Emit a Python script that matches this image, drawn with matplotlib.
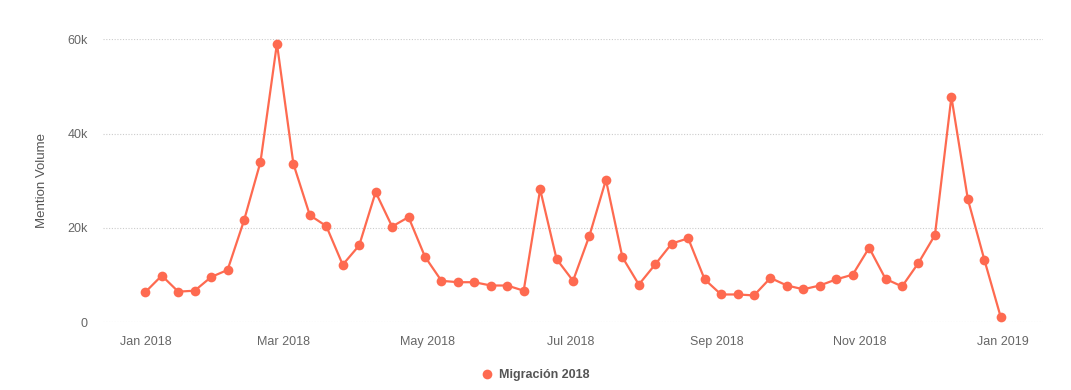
import matplotlib
matplotlib.use("Agg")
import matplotlib.pyplot as plt
import matplotlib.dates as mdates
import pandas as pd

plt.rcParams['font.family'] = ['Liberation Sans', 'DejaVu Sans']

SERIES_NAME = "Migración 2018"
START_WEEK = "2018-01-01"
# weekly mention volume (thousands)
volume_k = [6.4, 9.9, 6.5, 6.7, 9.6, 11.1, 21.6, 34.0, 59.1, 33.6,
            22.7, 20.4, 12.2, 16.3, 27.6, 20.3, 22.3, 13.9, 8.8, 8.5,
            8.5, 7.8, 7.8, 6.7, 28.2, 13.4, 8.8, 18.4, 30.2, 13.8,
            8.0, 12.3, 16.7, 17.8, 9.1, 5.9, 5.9, 5.7, 9.4, 7.8,
            7.0, 7.8, 9.1, 10.1, 15.8, 9.2, 7.6, 12.6, 18.5, 47.8,
            26.1, 13.3, 1.1]
y_ticks = [0, 20000, 40000, 60000]
y_tick_labels = ["0", "20k", "40k", "60k"]

LINE_COLOR = "#fe6a50"
TEXT_COLOR = "#666666"


def main():
    weeks = pd.date_range(START_WEEK, periods=len(volume_k), freq="7D")
    values = [v * 1000 for v in volume_k]

    fig = plt.figure(figsize=(10.71, 3.9), dpi=100)
    ax = fig.add_axes([0.0962, 0.1736, 0.8777, 0.7256])

    ax.plot(weeks, values, color=LINE_COLOR, linewidth=1.6, marker="o",
            markersize=7, markeredgewidth=0, label=SERIES_NAME, clip_on=False, zorder=3)

    ax.set_ylim(0, 60000)
    ax.set_xlim(pd.Timestamp("2017-12-14"), pd.Timestamp("2019-01-18"))
    ax.set_yticks(y_ticks)
    ax.set_yticklabels(y_tick_labels)

    ax.xaxis.set_major_locator(mdates.MonthLocator(bymonth=[1, 3, 5, 7, 9, 11]))
    ax.xaxis.set_major_formatter(mdates.DateFormatter("%b %Y"))

    ax.grid(axis="y", color="#cccccc", linestyle=(0, (1, 1.5)), linewidth=0.8)
    ax.grid(axis="x", visible=False)
    for s in ax.spines.values():
        s.set_visible(False)
    ax.tick_params(axis="both", length=0, labelsize=9, colors=TEXT_COLOR)
    ax.tick_params(axis="y", pad=11)
    ax.tick_params(axis="x", pad=10)

    ax.set_ylabel("Mention Volume", fontsize=9.5, color="#555555", labelpad=14)

    fig.legend(loc="center", bbox_to_anchor=(0.5, 1 - 375 / 390), frameon=False,
               handlelength=0.8, handletextpad=0.6,
               prop={"weight": "bold", "size": 9}, labelcolor="#555555")
    # legend handle should only be a dot
    leg = fig.legends[0]
    for h in leg.legend_handles:
        h.set_linestyle("none")

    fig.savefig("out.png", dpi=100)


if __name__ == "__main__":
    main()
